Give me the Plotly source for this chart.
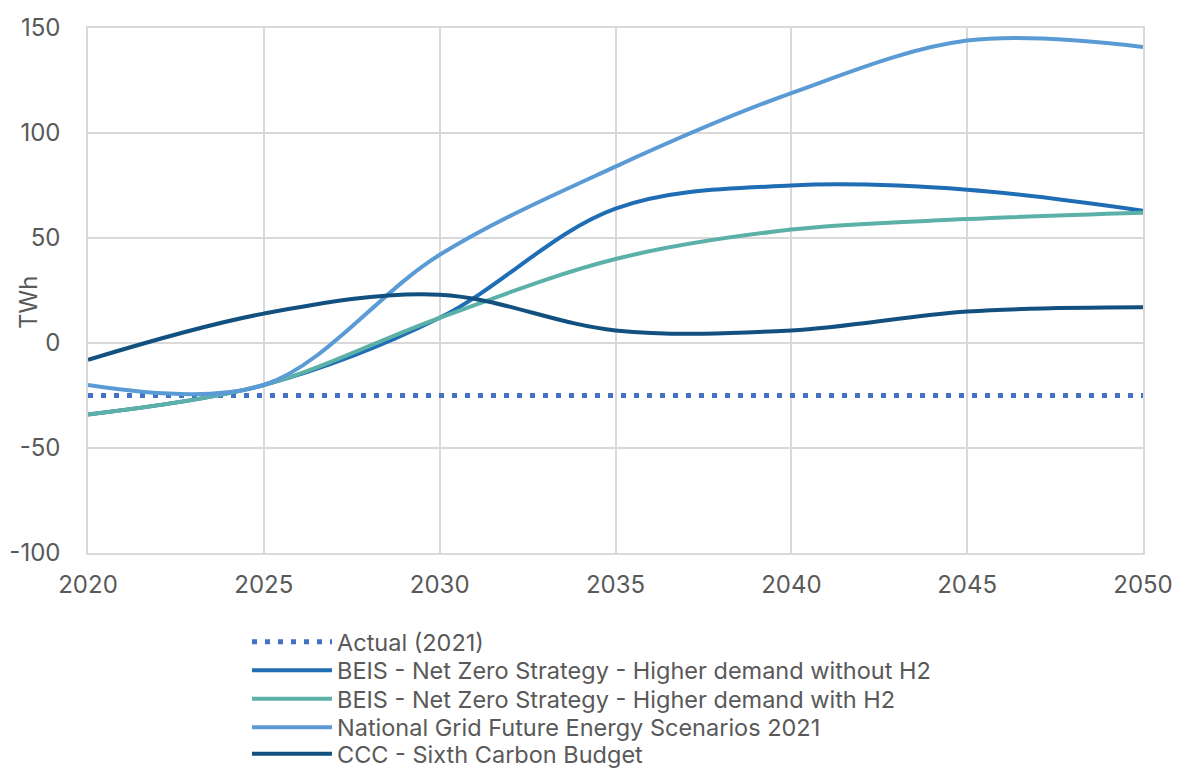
import plotly.graph_objects as go

years = [2020, 2025, 2030, 2035, 2040, 2045, 2050]
year_labels = ["2020", "2025", "2030", "2035", "2040", "2045", "2050"]
y_ticks = [-100, -50, 0, 50, 100, 150]
y_labels = ["-100", "-50", "0", "50", "100", "150"]
actual_years = [2020, 2050]
actual_vals = [-25, -25]
beis_no_h2 = [-34, -20, 12, 64, 75, 73, 63]
beis_h2 = [-34, -20, 12, 40, 54, 59, 62]
ngfes = [-20, -20, 42, 84, 119, 144, 141]
ccc = [-8, 14, 23, 6, 6, 15, 17]

names = [
    "Actual (2021)",
    "BEIS - Net Zero Strategy - Higher demand without H2",
    "BEIS - Net Zero Strategy - Higher demand with H2",
    "National Grid Future Energy Scenarios 2021",
    "CCC - Sixth Carbon Budget",
]
colors = ["#4472C4", "#1F6DB5", "#5BB0A8", "#5B9BD5", "#12507F"]

FONT = "Inter"
TXT = "#595959"
GRID = "#d9d9d9"
W, H = 1177, 769

fig = go.Figure()
fig.add_trace(go.Scatter(x=actual_years, y=actual_vals, mode="lines", name=names[0],
                         legend="legend",
                         line=dict(color=colors[0], width=5, dash="5px,8px")))
series = [beis_no_h2, beis_h2, ngfes, ccc]
for i, s in enumerate(series):
    fig.add_trace(go.Scatter(x=years, y=s, mode="lines", name=names[i + 1],
                             legend=f"legend{i + 2}",
                             line=dict(color=colors[i + 1], width=4, shape="spline")))

row_centers = [642, 670.5, 699, 727.5, 754]
legend_common = dict(xref="container", yref="container", x=247 / W, xanchor="left",
                     yanchor="middle", font=dict(family=FONT, size=23.5, color=TXT),
                     itemwidth=80, bgcolor="rgba(0,0,0,0)", borderwidth=0)
legends = {}
for i, yc in enumerate(row_centers):
    key = "legend" if i == 0 else f"legend{i + 1}"
    legends[key] = dict(legend_common, y=1 - yc / H)

fig.update_layout(
    width=W, height=H,
    margin=dict(l=88, r=34, t=28, b=216, autoexpand=False),
    paper_bgcolor="white", plot_bgcolor="white",
    font=dict(family=FONT, size=24, color=TXT),
    showlegend=True,
    xaxis=dict(range=[2020, 2050], tickvals=years, ticktext=year_labels, showgrid=True,
               gridcolor=GRID, gridwidth=1.5, showline=True, linecolor=GRID, linewidth=1.5,
               mirror=True, zeroline=False, ticks="", automargin=False, tickangle=0,
               tickfont=dict(size=24, color=TXT), ticklabelstandoff=9),
    yaxis=dict(range=[-100, 150], tickvals=y_ticks, ticktext=y_labels, showgrid=True,
               gridcolor=GRID, gridwidth=1.5, showline=True, linecolor=GRID, linewidth=1.5,
               mirror=True, zeroline=False, ticks="", automargin=False,
               tickfont=dict(size=24, color=TXT), ticklabelstandoff=21),
    annotations=[dict(text="TWh", textangle=-90, xref="paper", yref="paper",
                      x=(28 - 88) / 1055, y=(553 - 303) / 525, xanchor="center",
                      yanchor="middle", showarrow=False,
                      font=dict(family=FONT, size=24, color=TXT))],
    **legends,
)

fig.write_html("out.html")
